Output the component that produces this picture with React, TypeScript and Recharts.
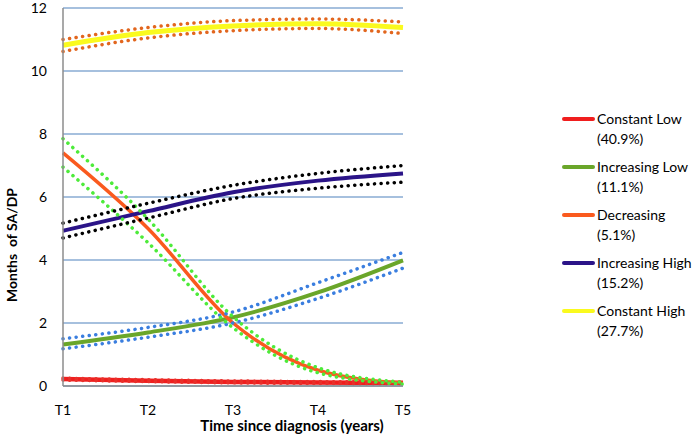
import { LineChart, Line, XAxis, YAxis, CartesianGrid, Legend } from "recharts";

const FONT = "Lato, 'Open Sans', sans-serif";

// time points
const periods = ["T1", "T2", "T3", "T4", "T5"];
const yTicks = [0, 2, 4, 6, 8, 10, 12];

// trajectory groups (legend order)
const groupNames = ["Constant Low", "Increasing Low", "Decreasing", "Increasing High", "Constant High"];
const groupShares = ["(40.9%)", "(11.1%)", "(5.1%)", "(15.2%)", "(27.7%)"];

// months of SA/DP per group, with upper / lower bounds
const constantLow = [0.22, 0.17, 0.13, 0.11, 0.1];
const constantLowUpper = [0.25, 0.2, 0.16, 0.14, 0.13];
const constantLowLower = [0.19, 0.14, 0.1, 0.08, 0.07];

const increasingLow = [1.32, 1.7, 2.18, 2.97, 3.99];
const increasingLowUpper = [1.5, 1.86, 2.35, 3.28, 4.24];
const increasingLowLower = [1.18, 1.55, 2.0, 2.78, 3.74];

const decreasing = [7.4, 5.0, 2.0, 0.5, 0.09];
const decreasingUpper = [7.85, 5.3, 2.2, 0.58, 0.12];
const decreasingLower = [6.95, 4.55, 1.85, 0.42, 0.06];

const increasingHigh = [4.93, 5.55, 6.15, 6.52, 6.75];
const increasingHighUpper = [5.17, 5.8, 6.37, 6.75, 7.0];
const increasingHighLower = [4.7, 5.33, 5.95, 6.28, 6.47];

const constantHigh = [10.82, 11.22, 11.43, 11.5, 11.38];
const constantHighUpper = [11.0, 11.38, 11.6, 11.65, 11.56];
const constantHighLower = [10.62, 11.05, 11.28, 11.35, 11.19];

const rows = periods.map((t, i) => ({
  t,
  cl: constantLow[i],
  clU: constantLowUpper[i],
  clL: constantLowLower[i],
  il: increasingLow[i],
  ilU: increasingLowUpper[i],
  ilL: increasingLowLower[i],
  de: decreasing[i],
  deU: decreasingUpper[i],
  deL: decreasingLower[i],
  ih: increasingHigh[i],
  ihU: increasingHighUpper[i],
  ihL: increasingHighLower[i],
  ch: constantHigh[i],
  chU: constantHighUpper[i],
  chL: constantHighLower[i],
}));

const solids = [
  { key: "cl", color: "#F01E1E", width: 4.5 },
  { key: "il", color: "#6AA62A", width: 4 },
  { key: "de", color: "#FA5A1E", width: 3.5 },
  { key: "ih", color: "#2B1488", width: 4 },
  { key: "ch", color: "#FAFA1E", width: 5 },
];

const bounds = [
  { key: "cl", color: "#E8302A" },
  { key: "il", color: "#3A7EDF" },
  { key: "de", color: "#4DEB3A" },
  { key: "ih", color: "#000000" },
  { key: "ch", color: "#E2661E" },
];

const renderLegend = (props: any) => {
  const items = (props.payload || [])
    .filter((e: any) => groupNames.includes(e.value))
    .sort((a: any, b: any) => groupNames.indexOf(a.value) - groupNames.indexOf(b.value));
  return (
    <div style={{ fontFamily: FONT, fontSize: 14, color: "#000" }}>
      {items.map((entry: any, i: number) => (
        <div key={i} style={{ display: "flex", alignItems: "flex-start", marginBottom: 8 }}>
          <div style={{ width: 33, height: 4, marginTop: 8, background: entry.color, borderRadius: 2 }} />
          <div style={{ marginLeft: 2, lineHeight: "20px" }}>
            <div>{entry.value}</div>
            <div>{groupShares[groupNames.indexOf(entry.value)]}</div>
          </div>
        </div>
      ))}
    </div>
  );
};

export default function App() {
  return (
    <div style={{ position: "absolute", left: 0, top: 0 }}>
      <LineChart width={700} height={438} data={rows} margin={{ top: 8, right: 159, bottom: 22, left: 0 }}>
        <CartesianGrid vertical={false} stroke="#4F81BD" strokeWidth={1.2} />
        <XAxis
          dataKey="t"
          interval={0}
          height={30}
          tickLine={false}
          tickSize={0}
          tickMargin={19}
          axisLine={{ stroke: "#8C8C8C", strokeWidth: 1.5 }}
          tick={{ fontFamily: FONT, fontSize: 14, fill: "#000" }}
          label={{
            content: () => (
              <text x={292} y={431} textAnchor="middle" fontFamily={FONT} fontSize={15} fontWeight="bold" fill="#000">
                Time since diagnosis (years)
              </text>
            ),
          }}
        />
        <YAxis
          width={63}
          domain={[0, 12]}
          ticks={yTicks}
          tickLine={false}
          tickSize={0}
          tickMargin={16}
          axisLine={{ stroke: "#8C8C8C", strokeWidth: 1.5 }}
          tick={{ fontFamily: FONT, fontSize: 14, fill: "#000" }}
          label={{
            content: () => (
              <text
                x={11}
                y={245}
                transform="rotate(-90, 11, 245)"
                textAnchor="middle"
                dominantBaseline="central"
                fontFamily={FONT}
                fontSize={14}
                fontWeight="bold"
                fill="#000"
                style={{ whiteSpace: "pre" }}
              >
                {"Months  of SA/DP"}
              </text>
            ),
          }}
        />
        <Legend
          content={renderLegend}
          layout="horizontal"
          align="right"
          verticalAlign="middle"
          wrapperStyle={{ left: 562, top: 109, width: 138, right: "auto", bottom: "auto" }}
        />
        {solids.map((s, i) => (
          <Line
            key={s.key}
            dataKey={s.key}
            name={groupNames[i]}
            type="monotone"
            stroke={s.color}
            strokeWidth={s.width}
            dot={false}
            activeDot={false}
            isAnimationActive={false}
          />
        ))}
        {bounds.flatMap((b) =>
          ["U", "L"].map((side) => (
            <Line
              key={b.key + side}
              dataKey={b.key + side}
              type="monotone"
              stroke={b.color}
              strokeWidth={3.5}
              strokeDasharray="0.1 6.5"
              strokeLinecap="round"
              legendType="none"
              dot={false}
              activeDot={false}
              isAnimationActive={false}
            />
          ))
        )}
      </LineChart>
    </div>
  );
}
